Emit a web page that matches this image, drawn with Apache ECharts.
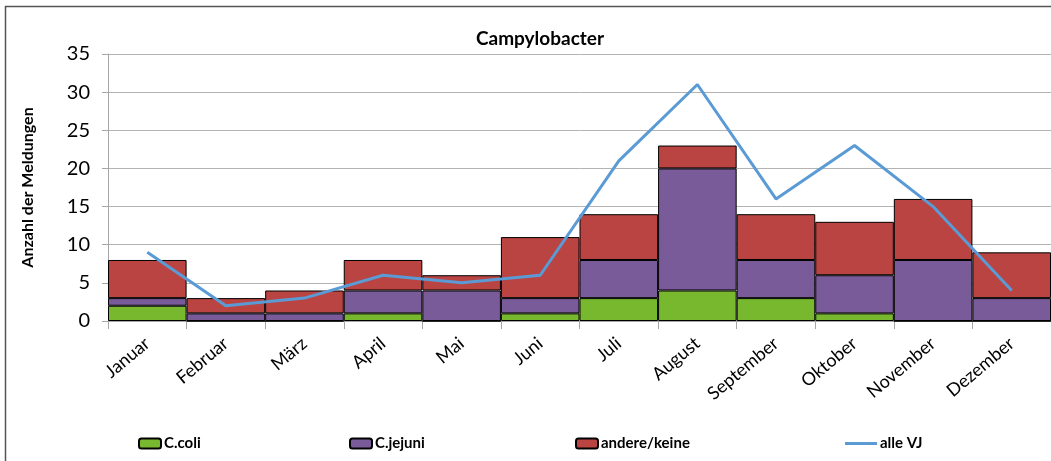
<!DOCTYPE html>
<html><head><meta charset="utf-8">
<script src="https://cdn.jsdelivr.net/npm/echarts@6/dist/echarts.min.js"></script>
<style>html,body{margin:0;padding:0;background:#fff}#c{width:1051px;height:461px}</style>
</head><body><div id="c"></div>
<script>
const categories = ['Januar','Februar','März','April','Mai','Juni','Juli','August','September','Oktober','November','Dezember'];
const cColi = [2,0,0,1,0,1,3,4,3,1,0,0];
const cJejuni = [1,1,1,3,4,2,5,16,5,5,8,3];
const andere = [5,2,3,4,2,8,6,3,6,7,8,6];
const alleVJ = [9,2,3,6,5,6,21,31,16,23,15,4];
const yTicks = [0,5,10,15,20,25,30,35];

const chart = echarts.init(document.getElementById('c'));
const F = 'Lato, "Open Sans", sans-serif';
const barStyle = c => ({color:c, borderColor:'#000', borderWidth:1});
const legendBase = {top:431, itemWidth:22, itemHeight:10, itemGap:0,
  textStyle:{fontFamily:F, fontSize:15, fontWeight:'bold', color:'#000', padding:[0,0,0,-2]}};
chart.setOption({
  animation:false,
  title:{text:'Campylobacter', left:535, textAlign:'center', top:24,
    textStyle:{fontFamily:F, fontSize:19, fontWeight:'bold', color:'#000'}},
  graphic:[
    {type:'line', shape:{x1:5,y1:6.5,x2:1051,y2:6.5}, style:{stroke:'#555', lineWidth:1.5}, silent:true},
    {type:'line', shape:{x1:5.5,y1:6,x2:5.5,y2:461}, style:{stroke:'#555', lineWidth:1.5}, silent:true}
  ],
  grid:{left:108, right:0, top:54, bottom:140},
  legend:[
    Object.assign({}, legendBase, {left:133, data:['C.coli']}),
    Object.assign({}, legendBase, {left:344, data:['C.jejuni']}),
    Object.assign({}, legendBase, {left:570, data:['andere/keine']}),
    Object.assign({}, legendBase, {left:840, itemWidth:32, itemHeight:3, data:[{name:'alle VJ', icon:'rect'}]})
  ],
  xAxis:{type:'category', data:categories, boundaryGap:true,
    axisLine:{lineStyle:{color:'#a6a6a6'}},
    axisTick:{show:true, length:8, lineStyle:{color:'#a6a6a6'}},
    axisLabel:{rotate:40, fontFamily:F, fontSize:18, color:'#000', margin:20, interval:0}},
  yAxis:{type:'value', min:0, max:35, interval:5,
    name:'Anzahl der Meldungen', nameLocation:'middle', nameRotate:90, nameGap:72,
    nameTextStyle:{fontFamily:F, fontSize:16, fontWeight:'bold', color:'#000'},
    axisLine:{show:true, lineStyle:{color:'#a6a6a6'}},
    axisTick:{show:true, length:6, lineStyle:{color:'#a6a6a6'}},
    splitLine:{lineStyle:{color:'#b3b3b3', width:1}},
    axisLabel:{fontFamily:F, fontSize:20, color:'#000', margin:18,
      formatter:v => yTicks.includes(v) ? String(v) : ''}},
  series:[
    {name:'C.coli', type:'bar', stack:'a', data:cColi, barCategoryGap:0, itemStyle:barStyle('#78b82f')},
    {name:'C.jejuni', type:'bar', stack:'a', data:cJejuni, barCategoryGap:0, itemStyle:barStyle('#795b99')},
    {name:'andere/keine', type:'bar', stack:'a', data:andere, barCategoryGap:0, itemStyle:barStyle('#b94442')},
    {name:'alle VJ', type:'line', data:alleVJ, symbol:'none', z:5, lineStyle:{color:'#5b9bd5', width:3}, itemStyle:{color:'#5b9bd5'}}
  ]
});
</script></body></html>
